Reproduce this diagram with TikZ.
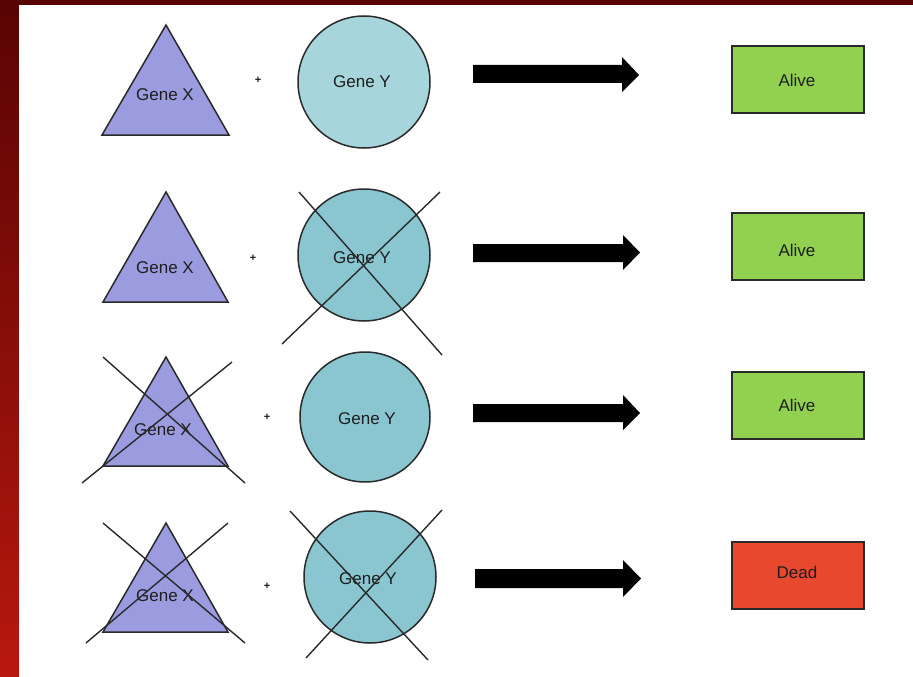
\documentclass[tikz,border=0pt]{standalone}
\usepackage{fontspec}
\setmainfont{Liberation Sans}
\definecolor{triC}{HTML}{9B9BE0}
\definecolor{circA}{HTML}{A6D6DC}
\definecolor{circB}{HTML}{89C6CF}
\definecolor{aliveC}{HTML}{92D050}
\definecolor{deadC}{HTML}{E8482E}
\definecolor{lineC}{HTML}{2A2A2A}
\definecolor{txtC}{HTML}{1E1E1E}
\begin{document}
\begin{tikzpicture}[x=1pt,y=-1pt,
  lbl/.style={font=\fontsize{17}{20}\selectfont, text=txtC, inner sep=0pt},
  plussign/.style={font=\bfseries\fontsize{11}{12}\selectfont, text=txtC, inner sep=0pt},
  tri/.style={fill=triC, draw=lineC, line width=1.5pt, line join=miter},
  circ/.style={circle, draw=lineC, line width=1.5pt, inner sep=0pt},
  res/.style={draw=lineC, line width=1.5pt, inner sep=0pt, minimum width=132pt, minimum height=67pt},
  crossline/.style={draw=lineC, line width=1.4pt},
  blockarrow/.style={fill=black}]
\useasboundingbox (0,0) rectangle (913,677);
% frame
\shade[top color={rgb,255:red,88;green,4;blue,4}, bottom color={rgb,255:red,184;green,24;blue,14}] (0,0) rectangle (913,677);
\fill[white] (19,5) rectangle (913,677);

% ---------- Row 1
\draw[tri] (166,25) -- (229,135) -- (102,135) -- cycle;
\node[lbl] (gx1) at (165,95) {Gene X};
\node[plussign] (p1) at (258,80) {+};
\node[circ, fill=circA, minimum size=132pt] (cy1) at (364,82) {};
\node[lbl] (ty1) at (362,82) {Gene Y};
\fill[blockarrow] (473,65) -- (622,65) -- (622,57) -- (639,75) -- (622,92) -- (622,83) -- (473,83) -- cycle;
\node[res, fill=aliveC] (r1) at (798,79.5) {};
\node[lbl] (tr1) at (797,80) {Alive};

% ---------- Row 2
\draw[tri] (166,192) -- (228,302) -- (103,302) -- cycle;
\node[lbl] (gx2) at (165,268) {Gene X};
\node[plussign] (p2) at (253,258) {+};
\node[circ, fill=circB, minimum size=132pt] (cy2) at (364,255) {};
\node[lbl] (ty2) at (362,258) {Gene Y};
\draw[crossline] (299,192) -- (442,355);
\draw[crossline] (440,192) -- (282,344);
\fill[blockarrow] (473,244) -- (623,244) -- (623,235) -- (640,252.5) -- (623,270) -- (623,262) -- (473,262) -- cycle;
\node[res, fill=aliveC] (r2) at (798,246.5) {};
\node[lbl] (tr2) at (797,250) {Alive};

% ---------- Row 3
\draw[tri] (166,357) -- (228,466) -- (103,466) -- cycle;
\node[lbl] (gx3) at (163,430) {Gene X};
\draw[crossline] (103,357) -- (245,483);
\draw[crossline] (232,362) -- (82,483);
\node[plussign] (p3) at (267,417) {+};
\node[circ, fill=circB, minimum size=130pt] (cy3) at (365,417) {};
\node[lbl] (ty3) at (367,419) {Gene Y};
\fill[blockarrow] (473,404) -- (623,404) -- (623,395) -- (640,413) -- (623,430) -- (623,422) -- (473,422) -- cycle;
\node[res, fill=aliveC] (r3) at (798,405.5) {};
\node[lbl] (tr3) at (797,405) {Alive};

% ---------- Row 4
\draw[tri] (166,523) -- (228,632) -- (103,632) -- cycle;
\node[lbl] (gx4) at (165,596) {Gene X};
\draw[crossline] (103,523) -- (245,643);
\draw[crossline] (228,523) -- (86,643);
\node[plussign] (p4) at (267,586) {+};
\node[circ, fill=circB, minimum size=132pt] (cy4) at (370,577) {};
\node[lbl] (ty4) at (368,579) {Gene Y};
\draw[crossline] (290,511) -- (428,660);
\draw[crossline] (442,510) -- (306,658);
\fill[blockarrow] (475,569) -- (623,569) -- (623,560) -- (641,578.5) -- (623,597) -- (623,588) -- (475,588) -- cycle;
\node[res, fill=deadC] (r4) at (798,575.5) {};
\node[lbl] (tr4) at (797,572) {Dead};
\end{tikzpicture}
\end{document}
